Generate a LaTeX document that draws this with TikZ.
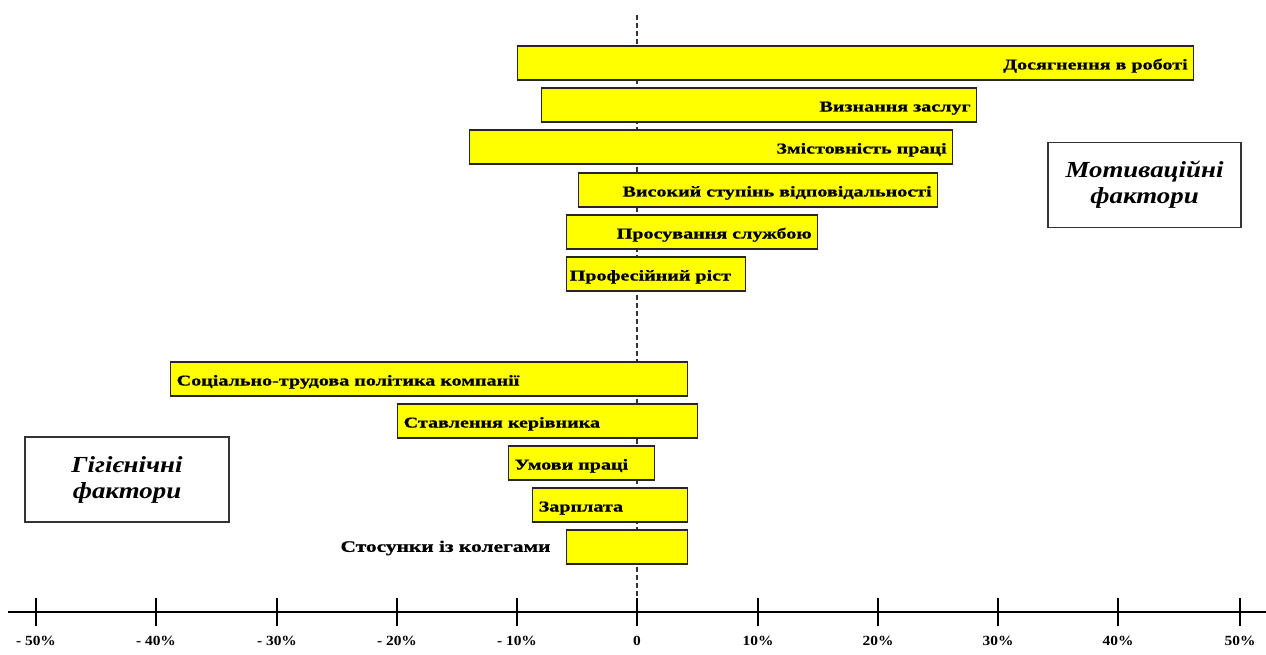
\documentclass[tikz,border=0pt]{standalone}
\usepackage{fontspec}
\setmainfont{Liberation Serif}
\newfontfamily\barfont[FakeStretch=1.34,FakeBold=0.8]{Liberation Serif}
\newfontfamily\boxfont[FakeStretch=1.17]{Liberation Serif}
\newfontfamily\axfont[FakeStretch=1.1]{Liberation Serif}
\definecolor{baryellow}{RGB}{255,255,0}
\begin{document}
\begin{tikzpicture}[x=1pt,y=-1pt,
  bar/.style={draw=black!85, line width=1.4pt, fill=baryellow, minimum height=34pt,
    inner ysep=0pt, inner xsep=6pt, anchor=west, text height=13pt, text depth=0pt,
    font=\barfont\bfseries\fontsize{15}{17}\selectfont},
  lbl/.style={font=\barfont\bfseries\fontsize{16}{18}\selectfont},
  tick/.style={line width=2.6pt},
  ticklbl/.style={font=\axfont\bfseries\fontsize{14}{16}\selectfont, anchor=center},
  groupbox/.style={draw=black!80, line width=1.3pt, fill=white, align=center,
    font=\boxfont\bfseries\itshape\fontsize{23}{27}\selectfont, inner sep=0pt},
  zeroline/.style={dashed, dash pattern=on 5pt off 3pt, line width=1.2pt, black!80}]
\useasboundingbox (0,0) rectangle (1266,655);
% zero line
\coordinate (ztop) at (637,15);
\coordinate (zbot) at (637,598);
\draw[zeroline] (ztop) -- (zbot);
% motivation bars
\node[bar, text width=664pt, align=right] (m1) at (517,63) {Досягнення в роботі};
\node[bar, text width=423pt, align=right] (m2) at (541,105) {Визнання заслуг};
\node[bar, text width=471pt, align=right] (m3) at (469,147) {Змістовність праці};
\node[bar, text width=347pt, align=right] (m4) at (578,190) {Високий ступінь відповідальності};
\node[bar, text width=239pt, align=right] (m5) at (566,232) {Просування службою};
\node[bar, align=left, inner xsep=3pt, text width=173pt] (m6) at (566,274) {Професійний ріст};
% hygiene bars
\node[bar, text width=505pt, align=left] (h1) at (170,379) {Соціально-трудова політика компанії};
\node[bar, text width=288pt, align=left] (h2) at (397,421) {Ставлення керівника};
\node[bar, text width=134pt, align=left] (h3) at (508,463) {Умови праці};
\node[bar, text width=143pt, align=left] (h4) at (532,505) {Зарплата};
\node[bar, text width=109pt, align=left] (h5) at (566,547) {};
\node[lbl, anchor=east] (h5l) at (554,548) {Стосунки із колегами};
% group boxes
\node[groupbox, minimum width=193pt, minimum height=85pt] (mot) at (1144.5,185) {Мотиваційні\\[-1pt]фактори};
\node[groupbox, minimum width=204pt, minimum height=85pt] (hyg) at (127,479.5) {Гігієнічні\\[-1pt]фактори};
% axis
\coordinate (axl) at (8,612);
\coordinate (axr) at (1266,612);
\draw[line width=1.8pt] (axl) -- (axr);
\foreach \v/\x/\t in {n50/36/- 50\%, n40/156/- 40\%, n30/277/- 30\%, n20/397/- 20\%, n10/517/- 10\%,
   z/637/0, p10/758/10\%, p20/878/20\%, p30/998/30\%, p40/1118/40\%, p50/1240/50\%}{
  \draw[tick] (\x,598) -- (\x,626);
  \node[ticklbl] (t\v) at (\x,641) {\t};
}
\end{tikzpicture}
\end{document}
